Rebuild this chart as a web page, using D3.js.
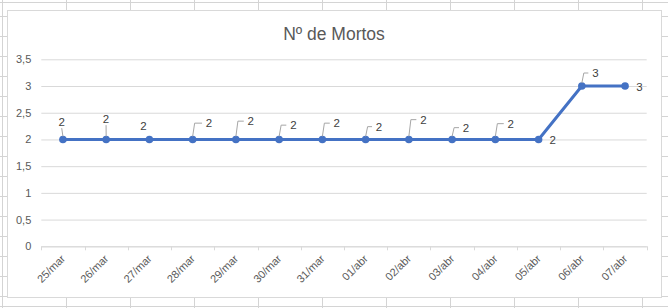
<!DOCTYPE html>
<html>
<head>
<meta charset="utf-8">
<script src="https://cdn.jsdelivr.net/npm/d3@7/dist/d3.min.js"></script>
<style>
  body { margin: 0; background: #fff; }
  svg { display: block; font-family: "Liberation Sans", Arial, sans-serif; }
</style>
</head>
<body>
<svg width="668" height="308"></svg>
<script>
"use strict";
// data
var title = "Nº de Mortos";
var dias = ["25/mar","26/mar","27/mar","28/mar","29/mar","30/mar","31/mar",
            "01/abr","02/abr","03/abr","04/abr","05/abr","06/abr","07/abr"];
var mortos = [2,2,2,2,2,2,2,2,2,2,2,2,3,3];
var yTicks = [0,0.5,1,1.5,2,2.5,3,3.5];

// label placement (dx, dy from point, leader kind) - layout only
var labelPos = [
  [-1.2,-13.3,"line"],[-0.1,-16.3,"line"],[-6,-9.3,""],[16.4,-12.3,"elbow"],
  [14.9,-14.3,"elbow"],[14.2,-10.3,"elbow"],[14.4,-12.3,"elbow"],[13.4,-8.8,"elbow"],
  [14.5,-15.8,"elbow"],[13.9,-7.8,"elbow"],[15.4,-11.8,"elbow"],[14.1,4.2,""],
  [13.5,-9,"elbow"],[14.3,4.5,""]
];

var svg = d3.select("svg");

// spreadsheet grid behind the chart
var bg = svg.append("g").attr("stroke", "#d4d4d4").attr("stroke-width", 1);
d3.range(2, 668, 64).forEach(function(x) {
  bg.append("line").attr("x1", x + 0.5).attr("x2", x + 0.5).attr("y1", 0).attr("y2", 308);
});
d3.range(16, 308, 20).forEach(function(y) {
  bg.append("line").attr("x1", 0).attr("x2", 668).attr("y1", y + 0.5).attr("y2", y + 0.5);
});
bg.append("line").attr("x1", 0).attr("x2", 668).attr("y1", 2.5).attr("y2", 2.5);
bg.append("line").attr("x1", 0).attr("x2", 668).attr("y1", 306.5).attr("y2", 306.5);

// chart area
svg.append("rect").attr("x", 7.5).attr("y", 10.5).attr("width", 654).attr("height", 287)
  .attr("fill", "#fff").attr("stroke", "#d9d9d9");

svg.append("text").attr("x", 334).attr("y", 40).attr("text-anchor", "middle")
  .attr("font-size", 17.5).attr("fill", "#595959").text(title);

var x = d3.scaleBand().domain(dias).range([41.3, 646.7]).padding(0);
var y = d3.scaleLinear().domain([0, 3.5]).range([246.3, 59.3]);

var locale = d3.formatLocale({decimal: ",", thousands: ".", grouping: [3], currency: ["", ""]});
var fmt = locale.format(".1~f");

var yAxis = svg.append("g").attr("transform", "translate(41.3,0)")
  .call(d3.axisLeft(y).tickValues(yTicks).tickSize(-(646.7 - 41.3)).tickPadding(10).tickFormat(fmt));
yAxis.select(".domain").remove();
yAxis.selectAll("line").attr("stroke", "#d9d9d9");
yAxis.selectAll("text").attr("fill", "#595959").attr("font-size", 11).attr("font-family", null);

var xAxis = svg.append("g").attr("transform", "translate(0,246.3)")
  .call(d3.axisBottom(x).tickSize(0).tickPadding(0));
xAxis.select(".domain").attr("stroke", "#d9d9d9");
xAxis.selectAll("text").attr("fill", "#595959").attr("font-size", 11).attr("font-family", null)
  .attr("text-anchor", "end").attr("dy", null)
  .attr("transform", "translate(3,13) rotate(-45)");
// ticks between categories
xAxis.selectAll(".sep").data(d3.range(dias.length + 1)).enter().append("line")
  .attr("x1", function(i) { return Math.round(41.3 + i * x.step()) + 0.5; })
  .attr("x2", function(i) { return Math.round(41.3 + i * x.step()) + 0.5; })
  .attr("y1", 0).attr("y2", 4).attr("stroke", "#d9d9d9");

var cx = function(d, i) { return x(dias[i]) + x.bandwidth() / 2; };

var line = d3.line().x(function(d, i) { return cx(d, i); }).y(function(d) { return y(d); });
svg.append("path").datum(mortos).attr("d", line).attr("fill", "none")
  .attr("stroke", "#4472c4").attr("stroke-width", 3).attr("stroke-linejoin", "round");

svg.selectAll(".pt").data(mortos).enter().append("circle")
  .attr("cx", cx).attr("cy", function(d) { return y(d); }).attr("r", 3.8)
  .attr("fill", "#4472c4");

// leader lines
svg.selectAll(".lead").data(mortos).enter().append("path")
  .attr("fill", "none").attr("stroke", "#a6a6a6").attr("stroke-width", 1)
  .attr("d", function(d, i) {
    var p = labelPos[i], px = cx(d, i), py = y(d);
    var lx = px + p[0], ly = py + p[1];
    if (p[2] === "elbow") {
      var ey = ly - 4;
      return "M" + px + "," + (py - 3) + "L" + (px + 2) + "," + ey + "L" + (lx - 7) + "," + ey;
    }
    if (p[2] === "line") {
      return "M" + lx + "," + (ly + 2) + "L" + px + "," + (py - 3);
    }
    return null;
  });

svg.selectAll(".lbl").data(mortos).enter().append("text")
  .attr("x", function(d, i) { return cx(d, i) + labelPos[i][0]; })
  .attr("y", function(d, i) { return y(d) + labelPos[i][1]; })
  .attr("text-anchor", "middle").attr("font-size", 11.5).attr("fill", "#404040")
  .text(function(d) { return d; });
</script>
</body>
</html>
